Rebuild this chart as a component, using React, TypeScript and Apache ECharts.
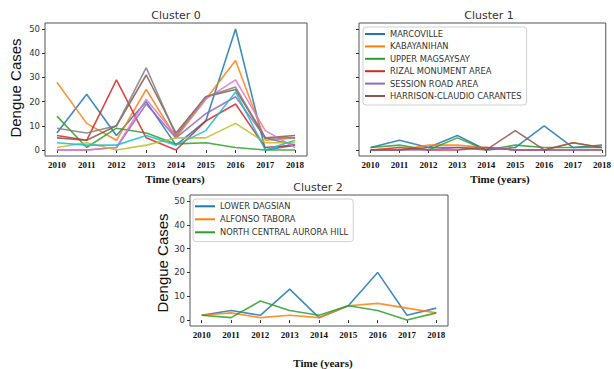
import React, { useEffect, useRef } from "react";
import * as echarts from "echarts";

const years = [2010, 2011, 2012, 2013, 2014, 2015, 2016, 2017, 2018];
const yTicks = [0, 10, 20, 30, 40, 50];
const palette = ["#1f77b4", "#ff7f0e", "#2ca02c", "#d62728", "#9467bd", "#8c564b", "#e377c2", "#7f7f7f", "#bcbd22", "#17becf"];

// Cluster 0 (unlabelled in the reference)
const c0Names = ["C0 Series 1", "C0 Series 2", "C0 Series 3", "C0 Series 4", "C0 Series 5", "C0 Series 6", "C0 Series 7", "C0 Series 8", "C0 Series 9", "C0 Series 10"];
const c0s1 = [7, 23, 6, 20, 2, 12, 50, 0, 2];
const c0s2 = [28, 11, 4, 25, 5, 21, 37, 4, 5];
const c0s3 = [14, 1, 9, 7, 2.5, 3, 1, 0, 0];
const c0s4 = [6, 4, 29, 5, 0, 12, 19, 1, 2];
const c0s5 = [0, 0, 1, 19, 5, 15, 22, 5, 2];
const c0s6 = [5, 4, 10, 31, 7, 22, 25, 5, 6];
const c0s7 = [0, 0, 1, 21, 6, 21, 29, 8, 1];
const c0s8 = [9, 7, 10, 34, 6, 22, 26, 5, 5];
const c0s9 = [1, 3, 0, 2, 5, 5, 11, 3, 3];
const c0s10 = [3, 2, 2, 6, 2, 8, 24, 0, 4];
const c0Values = [c0s1, c0s2, c0s3, c0s4, c0s5, c0s6, c0s7, c0s8, c0s9, c0s10];

// Cluster 1
const c1Names = ["MARCOVILLE", "KABAYANIHAN", "UPPER MAGSAYSAY", "RIZAL MONUMENT AREA", "SESSION ROAD AREA", "HARRISON-CLAUDIO CARANTES"];
const marcoville = [1, 4, 1, 6, 0, 1, 10, 1, 2];
const kabayanihan = [0, 0, 2, 2, 1, 0, 0, 3, 1];
const upperMagsaysay = [1, 2, 0, 5, 0, 2, 1, 1, 1];
const rizalMonument = [0, 1, 0, 0, 1, 0, 0, 0, 0];
const sessionRoad = [0, 0, 0, 1, 1, 0, 0, 0, 0];
const harrison = [0, 0, 1, 1, 0, 8, 0, 3, 1];
const c1Values = [marcoville, kabayanihan, upperMagsaysay, rizalMonument, sessionRoad, harrison];

// Cluster 2
const c2Names = ["LOWER DAGSIAN", "ALFONSO TABORA", "NORTH CENTRAL AURORA HILL"];
const lowerDagsian = [2, 4, 2, 13, 1, 6, 20, 2, 5];
const alfonsoTabora = [2, 3, 1, 2, 1, 6, 7, 5, 3];
const northCentral = [2, 1, 8, 4, 2, 6, 4, 0, 3];
const c2Values = [lowerDagsian, alfonsoTabora, northCentral];

const titles = ["Cluster 0", "Cluster 1", "Cluster 2"];
const xName = "Time (years)";
const yName = "Dengue Cases";

function xAxis(gridIndex: number, max: number) {
  return {
    type: "value",
    gridIndex,
    min: 2009.6,
    max,
    axisLine: { show: false },
    splitLine: { show: false },
    axisTick: { show: true, length: 3, customValues: years, lineStyle: { color: "#333" } },
    axisLabel: {
      customValues: years,
      formatter: (v: number) => String(v),
      fontFamily: "Liberation Serif",
      fontWeight: "bold",
      fontSize: 9,
      color: "#111",
      margin: 4,
    },
  };
}

function yAxis(gridIndex: number, showLabels: boolean) {
  return {
    type: "value",
    gridIndex,
    min: -2.5,
    max: 52.5,
    axisLine: { show: false },
    splitLine: { show: false },
    axisTick: { show: true, length: 3, customValues: yTicks, lineStyle: { color: "#333" } },
    axisLabel: {
      show: showLabels,
      customValues: yTicks,
      fontFamily: "DejaVu Sans",
      fontSize: 8.5,
      color: "#333",
      margin: 5,
    },
  };
}

function lineSeries(name: string, vals: number[], color: string, idx: number) {
  return {
    type: "line",
    name,
    xAxisIndex: idx,
    yAxisIndex: idx,
    data: years.map((y, i) => [y, vals[i]]),
    showSymbol: false,
    symbol: "none",
    color,
    lineStyle: { width: 1.6, color, opacity: 0.85 },
    silent: true,
  };
}

function legendCfg(names: string[], left: number, top: number, lineHeight: number) {
  return {
    data: names,
    left,
    top,
    orient: "vertical",
    icon: "rect",
    itemWidth: 20,
    itemHeight: 2,
    itemGap: 0.4,
    padding: [1, 5, 3, 2],
    borderColor: "#d0d0d0",
    borderWidth: 1,
    borderRadius: 3,
    backgroundColor: "#fff",
    selectedMode: false,
    textStyle: { fontFamily: "DejaVu Sans", fontSize: 8.3, color: "#333", lineHeight },
  };
}

function textEl(text: string, x: number, y: number, size: number, family: string, weight: string, rot = 0, fill = "#222") {
  return {
    type: "text",
    x,
    y,
    rotation: rot,
    style: { text, fontSize: size, fontFamily: family, fontWeight: weight, fill, align: "center", verticalAlign: "middle" },
  };
}

export default function App() {
  const ref = useRef<HTMLDivElement>(null);
  useEffect(() => {
    if (!ref.current) return;
    const chart = echarts.init(ref.current, null, { renderer: "svg" });
    const series: any[] = [];
    c0Values.forEach((v, i) => series.push(lineSeries(c0Names[i], v, palette[i % 10], 0)));
    c1Values.forEach((v, i) => series.push(lineSeries(c1Names[i], v, palette[i % 10], 1)));
    c2Values.forEach((v, i) => series.push(lineSeries(c2Names[i], v, palette[i % 10], 2)));
    chart.setOption({
      animation: false,
      backgroundColor: "#fff",
      grid: [
        { left: 45, top: 23, width: 262, height: 133, show: true, borderColor: "#555", borderWidth: 1, backgroundColor: "transparent" },
        { left: 359, top: 23, width: 254, height: 133, show: true, borderColor: "#555", borderWidth: 1, backgroundColor: "transparent" },
        { left: 190, top: 195, width: 258, height: 131, show: true, borderColor: "#555", borderWidth: 1, backgroundColor: "transparent" },
      ],
      xAxis: [xAxis(0, 2018.4), xAxis(1, 2018.13), xAxis(2, 2018.4)],
      yAxis: [yAxis(0, true), yAxis(1, false), yAxis(2, true)],
      legend: [legendCfg(c1Names, 363, 27, 12), legendCfg(c2Names, 193, 199, 12.6)],
      series,
      graphic: [
        textEl(titles[0], 176, 15, 11, "DejaVu Sans", "normal", 0, "#333"),
        textEl(titles[1], 489, 15, 11, "DejaVu Sans", "normal", 0, "#333"),
        textEl(titles[2], 318, 187, 11, "DejaVu Sans", "normal", 0, "#333"),
        textEl(yName, 15, 88, 15, "Liberation Sans", "normal", Math.PI / 2, "#111"),
        textEl(yName, 162, 263, 15, "Liberation Sans", "normal", Math.PI / 2, "#111"),
        textEl(xName, 175, 179, 11, "Liberation Serif", "bold", 0, "#111"),
        textEl(xName, 500, 179, 11, "Liberation Serif", "bold", 0, "#111"),
        textEl(xName, 323, 363, 11, "Liberation Serif", "bold", 0, "#111"),
      ],
    });
    return () => chart.dispose();
  }, []);
  return <div ref={ref} style={{ position: "absolute", left: 0, top: 0, width: 614, height: 369 }} />;
}
